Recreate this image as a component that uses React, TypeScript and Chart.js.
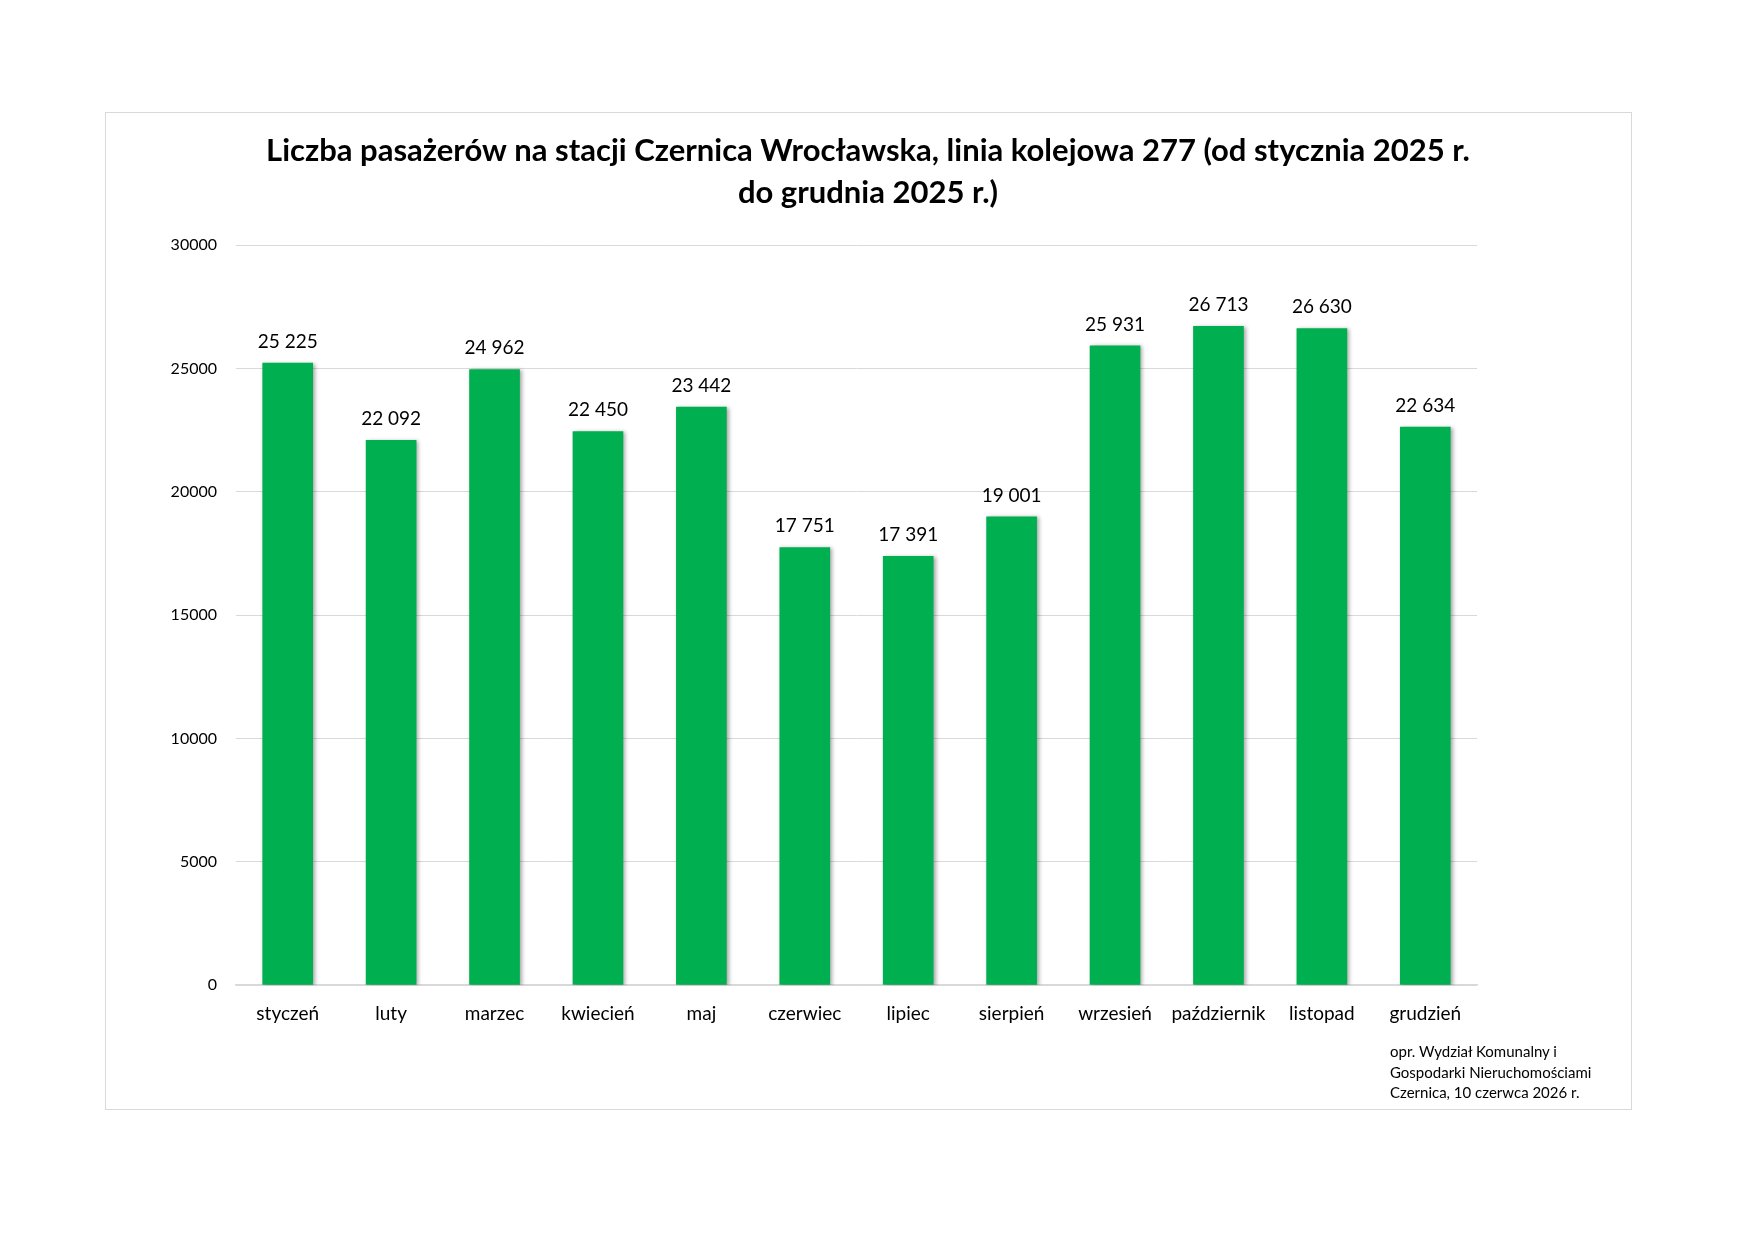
import { useEffect, useRef } from 'react';
import { Chart, registerables } from 'chart.js';

Chart.register(...registerables);

const months = [
  'styczeń',
  'luty',
  'marzec',
  'kwiecień',
  'maj',
  'czerwiec',
  'lipiec',
  'sierpień',
  'wrzesień',
  'październik',
  'listopad',
  'grudzień',
];

const passengers = [25225, 22092, 24962, 22450, 23442, 17751, 17391, 19001, 25931, 26713, 26630, 22634];

const yTicks = [0, 5000, 10000, 15000, 20000, 25000, 30000];

const titleLines = [
  'Liczba pasażerów na stacji Czernica Wrocławska, linia kolejowa 277 (od stycznia 2025 r.',
  'do grudnia 2025 r.)',
];

const footnote = ['opr. Wydział Komunalny i', 'Gospodarki Nieruchomościami', 'Czernica, 10 czerwca 2026 r.'];

const FONT = 'Lato, "Open Sans", sans-serif';

// spaces as thousands separator, like the original sheet
const fmt = (v: number) => String(v).replace(/\B(?=(\d{3})+(?!\d))/g, ' ');

// title centred on the whole frame, not just the plot area
const frameTitle = {
  id: 'frameTitle',
  afterDraw(chart: Chart) {
    const ctx = chart.ctx;
    ctx.save();
    ctx.font = `bold 31px ${FONT}`;
    ctx.fillStyle = '#000';
    ctx.textAlign = 'center';
    ctx.textBaseline = 'middle';
    titleLines.forEach((line, i) => {
      ctx.fillText(line, chart.width / 2, 38 + i * 42);
    });
    ctx.restore();
  },
};

const barShadow = {
  id: 'barShadow',
  beforeDatasetDraw(chart: Chart) {
    const ctx = chart.ctx;
    ctx.save();
    ctx.shadowColor = 'rgba(0, 0, 0, 0.35)';
    ctx.shadowBlur = 4;
    ctx.shadowOffsetX = 2;
    ctx.shadowOffsetY = 1;
  },
  afterDatasetDraw(chart: Chart) {
    chart.ctx.restore();
  },
};

const valueLabels = {
  id: 'valueLabels',
  afterDatasetsDraw(chart: Chart) {
    const ctx = chart.ctx;
    const meta = chart.getDatasetMeta(0);
    ctx.save();
    ctx.font = `19px ${FONT}`;
    ctx.fillStyle = '#000';
    ctx.textAlign = 'center';
    ctx.textBaseline = 'middle';
    meta.data.forEach((bar: any, i: number) => {
      ctx.fillText(fmt(passengers[i]), bar.x, bar.y - 21);
    });
    ctx.restore();
  },
};

function PassengerChart() {
  const canvasRef = useRef<HTMLCanvasElement>(null);
  const chartRef = useRef<Chart | null>(null);

  useEffect(() => {
    if (!canvasRef.current) return;
    const ctx = canvasRef.current.getContext('2d');
    if (!ctx) return;

    if (chartRef.current) chartRef.current.destroy();

    chartRef.current = new Chart(ctx, {
      type: 'bar',
      data: {
        labels: months,
        datasets: [
          {
            label: 'Liczba pasażerów',
            data: passengers,
            backgroundColor: '#00B050',
            borderWidth: 0,
            barPercentage: 0.49,
            categoryPercentage: 1,
          },
        ],
      },
      options: {
        responsive: true,
        maintainAspectRatio: false,
        animation: false,
        layout: {
          padding: { left: 0, right: 153, top: 132, bottom: 66 },
        },
        plugins: {
          legend: { display: false },
          tooltip: { enabled: false },
          title: { display: false },
        },
        scales: {
          x: {
            grid: { display: false, drawTicks: false },
            border: { display: true, color: '#d9d9d9', width: 1.5 },
            ticks: {
              color: '#000',
              padding: 17,
              maxRotation: 0,
              autoSkip: false,
              font: { family: FONT, size: 19 },
            },
          },
          y: {
            min: 0,
            max: 30000,
            afterFit(axis: any) {
              axis.width = 130;
            },
            afterBuildTicks(axis: any) {
              axis.ticks = yTicks.map((v) => ({ value: v }));
            },
            grid: { color: '#d9d9d9', lineWidth: 1, drawTicks: false },
            border: { display: false },
            ticks: {
              color: '#000',
              padding: 19,
              font: { family: FONT, size: 16 },
              callback: (v: any) => String(v),
            },
          },
        },
      },
      plugins: [barShadow, valueLabels, frameTitle],
    });

    return () => {
      if (chartRef.current) {
        chartRef.current.destroy();
        chartRef.current = null;
      }
    };
  }, []);

  return <canvas ref={canvasRef} />;
}

export default function App() {
  return (
    <div
      style={{
        position: 'absolute',
        left: 0,
        top: 0,
        width: 1755,
        height: 1240,
        background: '#fff',
        fontFamily: FONT,
      }}
    >
      <div
        style={{
          position: 'absolute',
          left: 105,
          top: 112,
          width: 1527,
          height: 998,
          boxSizing: 'border-box',
          border: '1.5px solid #d9d9d9',
        }}
      >
        <div style={{ position: 'absolute', left: 0, top: 0, width: 1524, height: 995 }}>
          <PassengerChart />
        </div>
        <div
          style={{
            position: 'absolute',
            left: 1284,
            top: 928,
            fontSize: 15,
            lineHeight: '20.5px',
            color: '#000',
            whiteSpace: 'nowrap',
          }}
        >
          {footnote.map((line) => (
            <div key={line}>{line}</div>
          ))}
        </div>
      </div>
    </div>
  );
}
